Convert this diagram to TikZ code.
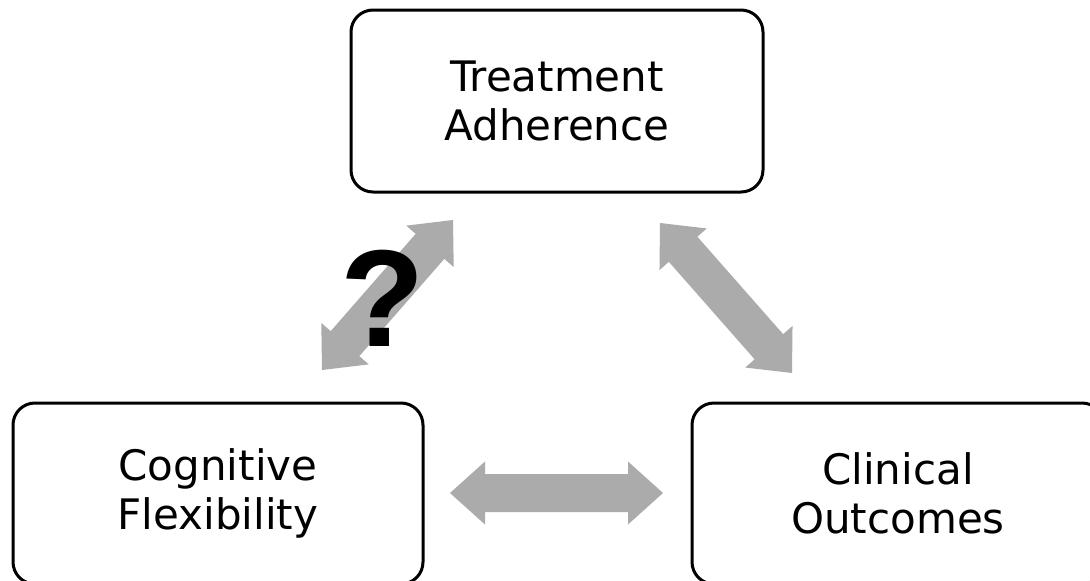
\documentclass[tikz,border=0pt]{standalone}
\usepackage{fontspec}
\setmainfont{DejaVu Sans}
\newfontfamily\qfont{Liberation Sans}
\usetikzlibrary{calc}

\definecolor{arrowgray}{HTML}{ABABAB}

\tikzset{
  conceptbox/.style={draw=black, line width=3pt, rounded corners=22pt,
    fill=white, align=center, inner sep=0pt,
    font=\fontsize{42}{49}\selectfont},
  arrowbody/.style={fill=arrowgray, draw=none},
  qmark/.style={inner sep=0pt, font=\qfont\bfseries\fontsize{138}{138}\selectfont}
}

% Block double arrow between two named coordinates:
% #1 prefix for helper points, #2 first tip, #3 second tip
\newcommand\blockdblarrow[3]{%
  \coordinate (#1h1) at ($(#2)!35pt!(#3)$);
  \coordinate (#1h2) at ($(#3)!35pt!(#2)$);
  \fill[arrowbody] (#2)
    -- ($(#1h1)!31.5pt!90:(#3)$) -- ($(#1h1)!19pt!90:(#3)$)
    -- ($(#1h2)!19pt!-90:(#2)$) -- ($(#1h2)!31.5pt!-90:(#2)$)
    -- (#3)
    -- ($(#1h2)!31.5pt!90:(#2)$) -- ($(#1h2)!19pt!90:(#2)$)
    -- ($(#1h1)!19pt!-90:(#3)$) -- ($(#1h1)!31.5pt!-90:(#3)$)
    -- cycle;}

\begin{document}
\begin{tikzpicture}[x=1pt, y=-1pt]
  \useasboundingbox (0,0) rectangle (1090,581);
  \clip (0,0) rectangle (1090,581);

  % concept boxes
  \node[conceptbox, minimum width=412pt, minimum height=182pt]
    (adh) at (557,101) {Treatment\\Adherence};
  \node[conceptbox, minimum width=410pt, minimum height=181pt]
    (cog) at (218,493.5) {Cognitive\\Flexibility};
  \node[conceptbox, minimum width=412pt, minimum height=181pt]
    (clin) at (898,493.5) {Clinical\\Outcomes};

  % arrow tips
  \coordinate (cogtip) at (322,370);
  \coordinate (adhtipL) at (453,220);
  \coordinate (adhtipR) at (660,223);
  \coordinate (clintip) at (792,373);
  \coordinate (cogtipH) at (450,493);
  \coordinate (clintipH) at (663,493);

  \blockdblarrow{ca}{cogtip}{adhtipL}
  \blockdblarrow{ac}{adhtipR}{clintip}
  \blockdblarrow{cc}{cogtipH}{clintipH}

  % unresolved link
  \node[qmark] (q) at (383,298) {?};
\end{tikzpicture}
\end{document}
